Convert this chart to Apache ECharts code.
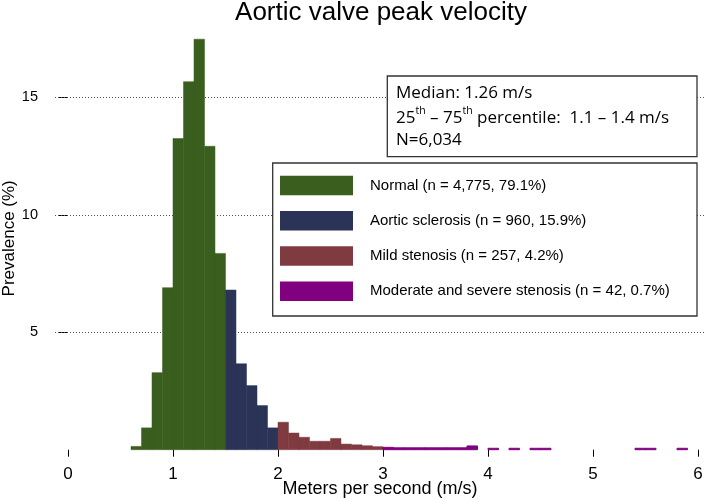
<!DOCTYPE html>
<html>
<head>
<meta charset="utf-8">
<script src="https://cdn.jsdelivr.net/npm/echarts@6/dist/echarts.min.js"></script>
<style>
  html, body { margin: 0; padding: 0; background: #fff; }
  #chart { width: 709px; height: 501px; }
</style>
</head>
<body>
<div id="chart"></div>
<script>
// ---- Data (prevalence % per 0.1 m/s bin, bins given by their start value) ----
const binWidth = 0.1;
const normalBins = [0.6, 0.7, 0.8, 0.9, 1.0, 1.1, 1.2, 1.3, 1.4];
const normalValues = [0.14, 0.93, 3.28, 6.9, 13.25, 15.67, 17.48, 12.92, 8.36];
const sclerosisBins = [1.5, 1.6, 1.7, 1.8, 1.9];
const sclerosisValues = [6.8, 3.66, 2.73, 1.88, 0.93];
const mildBins = [2.0, 2.1, 2.2, 2.3, 2.4, 2.5, 2.6, 2.7, 2.8, 2.9];
const mildValues = [1.17, 0.71, 0.53, 0.36, 0.36, 0.48, 0.24, 0.21, 0.17, 0.13];
const severeBins = [3.0, 3.1, 3.2, 3.3, 3.4, 3.5, 3.6, 3.7, 3.8, 4.0, 4.2, 4.4, 4.5, 5.4, 5.5, 5.8];
const severeValues = [0.1, 0.08, 0.08, 0.08, 0.08, 0.08, 0.08, 0.08, 0.16, 0.06, 0.06, 0.06, 0.06, 0.06, 0.06, 0.06];

const seriesNames = [
  'Normal (n = 4,775, 79.1%)',
  'Aortic sclerosis (n = 960, 15.9%)',
  'Mild stenosis (n = 257, 4.2%)',
  'Moderate and severe stenosis (n = 42, 0.7%)'
];
const xTicks = [0, 1, 2, 3, 4, 5, 6];
const yTicks = [5, 10, 15];
const statLines = ['Median: 1.26 m/s', '25th – 75th percentile:  1.1 – 1.4 m/s', 'N=6,034'];

const colors = ['#3a5e1e', '#2b3456', '#7f3b40', '#800080'];

function toData(bins, vals) {
  return bins.map((b, i) => [b, +(b + binWidth).toFixed(2), vals[i]]);
}

function makeRender(color, stroke) {
  return function (params, api) {
    const p0 = api.coord([api.value(0), api.value(2)]);
    const p1 = api.coord([api.value(1), 0]);
    return {
      type: 'rect',
      shape: { x: p0[0], y: p0[1], width: p1[0] - p0[0], height: p1[1] - p0[1] },
      style: { fill: color, stroke: color, lineWidth: stroke }
    };
  };
}

const groups = [
  [normalBins, normalValues],
  [sclerosisBins, sclerosisValues],
  [mildBins, mildValues],
  [severeBins, severeValues]
];

const series = groups.map((g, i) => ({
  name: seriesNames[i],
  type: 'custom',
  z: 2,
  renderItem: makeRender(colors[i], i === 3 ? 1 : 0.5),
  itemStyle: { color: colors[i] },
  encode: { x: [0, 1], y: 2 },
  data: toData(g[0], g[1])
}));

series.push({
  type: 'line',
  z: 1,
  data: [[0, 0]],
  symbol: 'none',
  lineStyle: { opacity: 0 },
  silent: true,
  markLine: {
    z: 1,
    silent: true,
    symbol: ['none', 'none'],
    label: { show: false },
    lineStyle: { type: [1, 2], color: '#555', width: 1 },
    emphasis: { disabled: true },
    data: yTicks.map(v => ({ yAxis: v }))
  }
});

const font = '"Liberation Sans", Arial, Helvetica, sans-serif';
const boxFont = '"Open Sans", Lato, sans-serif';

const chart = echarts.init(document.getElementById('chart'), null, { renderer: 'canvas' });

chart.setOption({
  animation: false,
  backgroundColor: '#fff',
  title: {
    text: 'Aortic valve peak velocity',
    left: 381,
    textAlign: 'center',
    top: 0,
    padding: 0,
    textStyle: { fontFamily: font, fontSize: 26, fontWeight: 'normal', color: '#000' }
  },
  grid: { left: 55, right: 4, top: 27, bottom: 51.3, outerBoundsMode: 'none', containLabel: false },
  xAxis: {
    type: 'value',
    min: -0.1238,
    max: 6.0667,
    name: 'Meters per second (m/s)',
    nameLocation: 'middle',
    nameGap: 30,
    nameMoveOverlap: false,
    nameTextStyle: { fontFamily: font, fontSize: 18, color: '#000' },
    axisLine: { show: false },
    axisTick: { show: true, customValues: xTicks, length: 7, lineStyle: { color: '#000', width: 1 } },
    axisLabel: { customValues: xTicks, fontFamily: font, fontSize: 17, color: '#000', margin: 16 },
    splitLine: { show: false }
  },
  yAxis: {
    type: 'value',
    min: 0,
    max: 18,
    offset: 3,
    name: 'Prevalence (%)',
    nameLocation: 'middle',
    nameGap: 34,
    nameMoveOverlap: false,
    nameTextStyle: { fontFamily: font, fontSize: 17, color: '#000' },
    axisLine: { show: false },
    axisTick: { show: true, customValues: yTicks, length: 9, lineStyle: { color: '#000', width: 1 } },
    axisLabel: { customValues: yTicks, fontFamily: font, fontSize: 14.5, color: '#000', margin: 14 },
    splitLine: { show: false }
  },
  legend: {
    z: 20,
    orient: 'vertical',
    left: 280,
    top: 175.7,
    padding: 0,
    itemWidth: 73,
    itemHeight: 19.5,
    itemGap: 15.8,
    icon: 'rect',
    selectedMode: false,
    data: seriesNames,
    textStyle: { fontFamily: font, fontSize: 15, color: '#000', padding: [0, 0, 0, 12] }
  },
  graphic: [
    {
      type: 'rect', z: 10,
      shape: { x: 272.7, y: 163, width: 424.3, height: 153 },
      style: { fill: '#fff', stroke: '#333', lineWidth: 1.3 }
    },
    {
      type: 'rect', z: 10,
      shape: { x: 387.3, y: 76, width: 309.7, height: 80.7 },
      style: { fill: '#fff', stroke: '#333', lineWidth: 1.3 }
    },
    {
      type: 'text', z: 11, x: 396, y: 93,
      style: { text: statLines[0], fontFamily: boxFont, fontSize: 17, fill: '#000', verticalAlign: 'middle' }
    },
    {
      type: 'text', z: 11, x: 396, y: 116,
      style: {
        text: '{n|25}{s|th}{n| – 75}{s|th}{n| percentile:  1.1 – 1.4 m/s}',
        verticalAlign: 'middle',
        rich: {
          n: { fontFamily: boxFont, fontSize: 17, fill: '#000', verticalAlign: 'bottom', lineHeight: 21 },
          s: { fontFamily: boxFont, fontSize: 10.5, fill: '#000', verticalAlign: 'top', lineHeight: 21 }
        }
      }
    },
    {
      type: 'text', z: 11, x: 396, y: 140,
      style: { text: statLines[2], fontFamily: boxFont, fontSize: 17, fill: '#000', verticalAlign: 'middle' }
    }
  ],
  series: series
});
</script>
</body>
</html>
